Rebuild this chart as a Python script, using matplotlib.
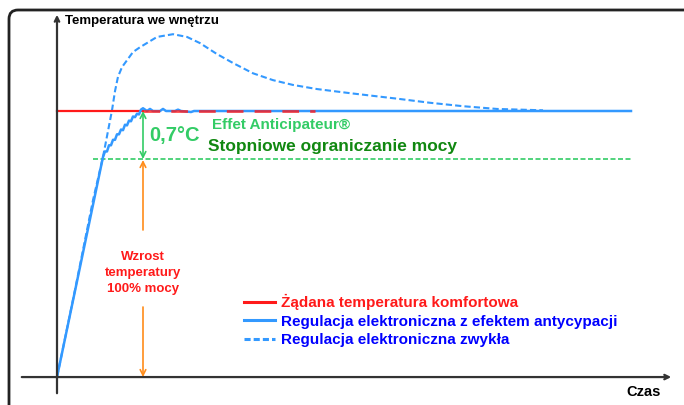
import matplotlib.pyplot as plt
from matplotlib.patches import FancyBboxPatch
from matplotlib.transforms import IdentityTransform
from matplotlib.lines import Line2D

plt.rcParams['font.family'] = ['Liberation Sans', 'DejaVu Sans']
plt.rcParams['font.weight'] = 'bold'

# temperatures (deg C) and time (arbitrary units)
setpoint = 20.0
limit_temp = 19.3
start_temp = 16.12

# classic electronic regulation (overshoot)
classic_t = [0, 3.6, 7.2, 9.2, 11, 11.6, 12.2, 13, 14, 15.2, 16.6, 20, 23.2, 26, 28.6,
             32, 35.2, 39.2, 43.2, 47.2, 52, 58.6, 68, 74.6, 81.2, 88, 97.2]
classic_T = [16.12, 17.39, 18.70, 19.33, 20.01, 20.29, 20.50, 20.64, 20.74, 20.86, 20.93,
             21.08, 21.12, 21.08, 20.99, 20.83, 20.70, 20.55, 20.45, 20.38, 20.32, 20.26,
             20.18, 20.12, 20.07, 20.03, 20.01]

# regulation with anticipation effect (small on/off ripple while approaching)
anti_t = [0, 9.2, 9.6, 10, 10.4, 10.8, 11.2, 11.6, 12, 12.4, 12.8, 13.2, 13.6, 14,
          14.4, 14.8, 15.2, 15.6, 16, 16.4, 16.8, 17.2, 18, 18.6, 19.2, 20.6, 21.2,
          21.8, 23.6, 24.2, 24.8, 26.2, 26.8, 27.4, 114.8]
anti_T = [16.12, 19.33, 19.41, 19.41, 19.50, 19.50, 19.58, 19.58, 19.66, 19.66, 19.73,
          19.72, 19.80, 19.79, 19.86, 19.85, 19.92, 19.91, 19.96, 19.95, 20.02, 20.04,
          20.00, 20.03, 20.00, 20.00, 20.03, 20.00, 20.00, 20.02, 20.00, 19.99, 19.985,
          20.00, 20.00]

setpoint_t = [0, 17.2]
setpoint_dash_t = [17.2, 51.6]
limit_t = [7.2, 115.2]
mark_t = 17.2  # where the arrows are

legend_labels = ['Żądana temperatura komfortowa',
                 'Regulacja elektroniczna z efektem antycypacji',
                 'Regulacja elektroniczna zwykła']

W, H = 684, 405
X0, Y0 = 57, 377          # origin in pixels
PX_T = 5.0                # pixels per time unit
PX_DEG = 48 / 0.7         # pixels per degree


def tx(px):
    return (px - X0) / PX_T


def ty(py):
    return setpoint - (py - 111) / PX_DEG


red = '#ff1a1a'
light_blue = '#3399ff'
green = '#33cc66'
dark_green = '#118811'
orange = '#ff8c1a'

fig = plt.figure(figsize=(W / 100, H / 100), dpi=100)
ax = fig.add_axes([0, 0, 1, 1])
ax.set_xlim(tx(0), tx(W))
ax.set_ylim(ty(H), ty(0))
ax.axis('off')

# frame
frame = FancyBboxPatch((9, -20), 720, 405 - 10 + 20, boxstyle='round,pad=0,rounding_size=9',
                       transform=IdentityTransform(), fill=False, ec='#222222', lw=2)
fig.patches.append(frame)

# axes arrows
ax.annotate('', xy=(0, ty(12)), xytext=(0, ty(396)),
            arrowprops=dict(arrowstyle='->', color='#333333', lw=1.6, mutation_scale=8))
ax.annotate('', xy=(tx(674), start_temp), xytext=(tx(19), start_temp),
            arrowprops=dict(arrowstyle='->', color='#333333', lw=1.6, mutation_scale=8))

# curves
ax.plot(limit_t, [limit_temp, limit_temp], color=green, lw=1.2, dashes=(3, 1.5))
ax.plot(classic_t, classic_T, color=light_blue, lw=1.5, dashes=(3, 1.5))
ax.plot(setpoint_t, [setpoint, setpoint], color=red, lw=1.6)
ax.plot(anti_t, anti_T, color=light_blue, lw=1.8)
ax.plot(setpoint_dash_t, [setpoint, setpoint], color=red, lw=2, dashes=(6, 4), alpha=0.8)

# arrows
ax.annotate('', xy=(mark_t, setpoint), xytext=(mark_t, limit_temp),
            arrowprops=dict(arrowstyle='<->', color=green, lw=1.2, mutation_scale=10,
                            shrinkA=0, shrinkB=0))
ax.annotate('', xy=(mark_t, ty(160)), xytext=(mark_t, ty(230)),
            arrowprops=dict(arrowstyle='->', color=orange, lw=1.2, mutation_scale=10,
                            shrinkA=0, shrinkB=0))
ax.annotate('', xy=(mark_t, start_temp), xytext=(mark_t, ty(307)),
            arrowprops=dict(arrowstyle='->', color=orange, lw=1.2, mutation_scale=10,
                            shrinkA=0, shrinkB=0))

# texts
ax.text(tx(65), ty(21), 'Temperatura we wnętrzu', fontsize=9.5, va='center', ha='left')
ax.text(tx(644), ty(392), 'Czas', fontsize=10.5, va='center', ha='center')
ax.text(mark_t, ty(273), 'Wzrost\ntemperatury\n100% mocy', fontsize=9.5, color=red,
        ha='center', va='center', linespacing=1.45)
ax.text(tx(149), ty(136), '0,7°C', fontsize=14.5, color=green, va='center', ha='left')
ax.text(tx(212), ty(125), 'Effet Anticipateur®', fontsize=11, color=green,
        va='center', ha='left')
ax.text(tx(208), ty(147), 'Stopniowe ograniczanie mocy', fontsize=12.5, color=dark_green,
        va='center', ha='left')

# legend
handles = [Line2D([], [], color=red, lw=2.2),
           Line2D([], [], color=light_blue, lw=2.2),
           Line2D([], [], color=light_blue, lw=2.2, dashes=(2, 1))]
leg = ax.legend(handles, legend_labels, loc='upper left',
                bbox_to_anchor=(244 / W, 1 - 294 / H), bbox_transform=fig.transFigure,
                frameon=False, fontsize=11, handlelength=2.0, handletextpad=0.4,
                labelspacing=0.3, borderpad=0, borderaxespad=0)
for text, c in zip(leg.get_texts(), [red, '#0000ff', '#0000ff']):
    text.set_color(c)

fig.savefig('out.png', dpi=100)
